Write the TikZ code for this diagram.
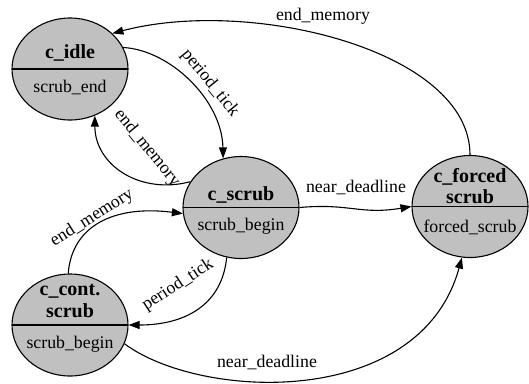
\documentclass[tikz,border=0pt]{standalone}
\usepackage{fontspec}
\setmainfont{Liberation Serif}
\usetikzlibrary{shapes.geometric,arrows.meta}

\definecolor{statefill}{HTML}{C0C0C0}

\tikzset{
  state/.style={ellipse, draw=black, fill=statefill, line width=1.1pt,
    minimum width=116pt, minimum height=102pt, inner sep=0pt,
    path picture={\draw[line width=1.1pt] (path picture bounding box.west) -- (path picture bounding box.east);}},
  title/.style={anchor=base, inner sep=0pt, font=\fontsize{20}{22}\selectfont\bfseries},
  action/.style={anchor=base, inner sep=0pt, font=\fontsize{17.8}{20}\selectfont},
  elabel/.style={inner sep=0pt, font=\fontsize{17.8}{20}\selectfont},
  trans/.style={line width=1.1pt, -{Triangle[length=11pt,width=8pt]}}
}

\begin{document}
\begin{tikzpicture}[x=1pt, y=-1pt]
  \useasboundingbox (0,0) rectangle (529,383);

  % states
  \node[state] (idle)   at (70,69)    {};
  \node[state] (scrub)  at (241,207.5) {};
  \node[state] (forced) at (470,206.5) {};
  \node[state] (cont)   at (70,325)   {};

  % state texts
  \node[title]  (idleT)   at (70,58)  {c\_idle};
  \node[action] (idleA)   at (70,92)  {scrub\_end};
  \node[title]  (scrubT)  at (241,200) {c\_scrub};
  \node[action] (scrubA)  at (241,230) {scrub\_begin};
  \node[title]  (forcedT) at (470,182) {c\_forced};
  \node[title]  (forcedU) at (470,203) {scrub};
  \node[action] (forcedA) at (470,232) {forced\_scrub};
  \node[title]  (contT)   at (70,295) {c\_cont.};
  \node[title]  (contU)   at (70,317) {scrub};
  \node[action] (contA)   at (70,348) {scrub\_begin};

  % transitions
  \draw[trans] (forced.90) .. controls (470,50) and (250,-3) .. (idle.40);
  \draw[trans] (idle.22) .. controls (170,50) and (222,100) .. (scrub.110);
  \draw[trans] (scrub.153) .. controls (140,195) and (95,165) .. (idle.298);
  \draw[trans] (cont.92) .. controls (72,225) and (115,205) .. (scrub.186);
  \draw[trans] (scrub.254) .. controls (222,305) and (185,325) .. (cont.east);
  \draw[trans] (scrub.east) .. controls (350,203) and (360,215) .. (forced.west);
  \draw[trans] (cont.341) .. controls (200,400) and (420,410) .. (forced.261);

  % transition labels
  \node[elabel, anchor=base] (l1) at (323,20) {end\_memory};
  \node[elabel, rotate=-51] (l2) at (210,83) {period\_tick};
  \node[elabel, rotate=-51] (l3) at (147,148) {end\_memory};
  \node[elabel, rotate=32] (l4) at (92,218) {end\_memory};
  \node[elabel, rotate=33] (l5) at (178,285) {period\_tick};
  \node[elabel, anchor=base] (l6) at (356,192) {near\_deadline};
  \node[elabel, anchor=base] (l7) at (267,367) {near\_deadline};
\end{tikzpicture}
\end{document}
